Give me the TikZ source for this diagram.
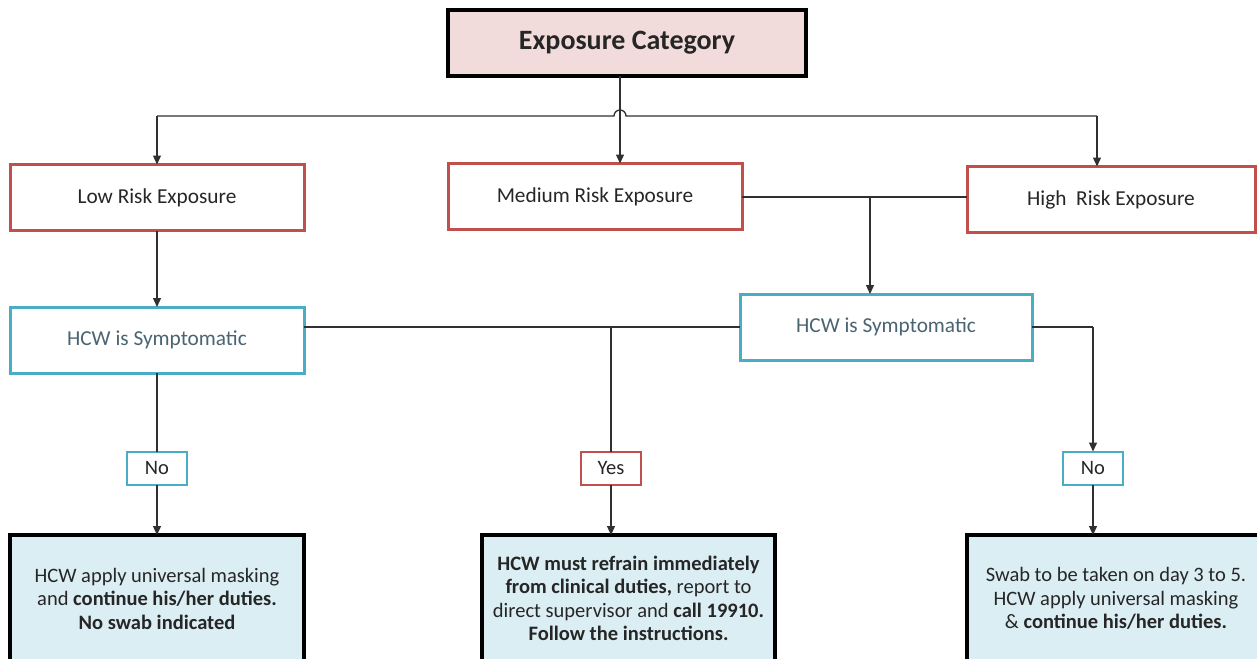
\documentclass[tikz,border=0pt]{standalone}
\usepackage{fontspec}
\setmainfont{Carlito}
\usetikzlibrary{arrows.meta}
\definecolor{redb}{HTML}{C0504D}
\definecolor{blueb}{HTML}{4BACC6}
\definecolor{pinkf}{HTML}{F2DCDB}
\definecolor{bluef}{HTML}{DBEEF4}
\definecolor{txt}{HTML}{262626}
\definecolor{symtxt}{HTML}{4A6472}
\definecolor{linec}{HTML}{303030}
\tikzset{
  every node/.style={inner sep=0pt, outer sep=0pt, align=center, text=txt},
  basebox/.style={font=\fontsize{20.5}{23.5}\selectfont},
  labbox/.style={font=\fontsize{21.3}{24}\selectfont},
  topbox/.style={draw=black, line width=4pt, fill=pinkf, minimum width=358pt, minimum height=66pt, font=\fontsize{28}{31}\selectfont\bfseries},
  riskbox/.style={labbox, draw=redb, line width=3pt, fill=white, minimum height=66pt},
  symbox/.style={labbox, draw=blueb, line width=3pt, fill=white, minimum height=66pt, text=symtxt},
  ansbox/.style={basebox, line width=2pt, fill=white, minimum width=60pt, minimum height=33pt},
  actbox/.style={basebox, draw=black, line width=4pt, fill=bluef, minimum height=127pt},
  conn/.style={draw=linec, line width=1.3pt},
  arr/.style={conn, -{Triangle[length=9pt,width=8pt]}},
}
\begin{document}
\begin{tikzpicture}[x=1pt,y=-1pt]
\useasboundingbox (0,0) rectangle (1257,658);
% nodes
\node[topbox] (top) at (627,43) {Exposure Category};
\node[riskbox, minimum width=294pt] (low) at (157,197.5) {Low Risk Exposure};
\node[riskbox, minimum width=294pt] (med) at (595,196.5) {Medium Risk Exposure};
\node[riskbox, minimum width=288pt] (high) at (1111,199.5) {High~~Risk Exposure};
\node[symbox, minimum width=294pt] (symL) at (157,340) {HCW is Symptomatic};
\node[symbox, minimum width=292pt] (symR) at (886,327) {HCW is Symptomatic};
\node[ansbox, draw=blueb] (noL) at (157,468) {No};
\node[ansbox, draw=redb] (yes) at (611,468) {Yes};
\node[ansbox, draw=blueb] (noR) at (1093,468) {No};
\node[actbox, minimum width=294pt] (botL) at (157,598.5) {HCW apply universal masking\\and \textbf{continue his/her duties.}\\\textbf{No swab indicated}};
\node[actbox, minimum width=293pt] (botM) at (628.5,598.5) {\textbf{HCW must refrain immediately}\\\textbf{from clinical duties,} report to\\direct supervisor and \textbf{call 19910.}\\\textbf{Follow the instructions.}};
\node[actbox, minimum width=298pt] (botR) at (1116,598.5) {Swab to be taken on day 3 to 5.\\HCW apply universal masking\\\& \textbf{continue his/her duties.}};
% coordinates
\coordinate (busL) at (157,116);
\coordinate (busR) at (1097,116);
\coordinate (hopA) at (614,116);
\coordinate (j1) at (870,197);
\coordinate (j2) at (611,327);
\coordinate (j3) at (1093,327);
% bus with hop
\draw[conn] (busL) -- (hopA) arc[start angle=180, end angle=0, radius=6pt] -- (busR);
\draw[arr] (busL) -- (low.north);
\draw[arr] (busR) -- (busR |- high.north);
\draw[arr] ([xshift=-7pt]top.south) -- ([xshift=25pt]med.north);
% medium to high
\draw[conn] (med.east |- j1) -- (j1 -| high.west);
\draw[arr] (j1) -- (j1 |- symR.north);
% low to symptomatic
\draw[arr] (low.south) -- (symL.north);
% symptomatic link
\draw[conn] (symL.east |- j2) -- (symR.west |- j2);
\draw[conn] (j2) -- (yes.north);
\draw[arr] (yes.south) -- (yes.south |- botM.north);
% left branch
\draw[conn] (symL.south) -- (noL.north);
\draw[arr] (noL.south) -- (noL.south |- botL.north);
% right branch
\draw[conn] (symR.east) -- (j3);
\draw[arr] (j3) -- (noR.north);
\draw[arr] (noR.south) -- (noR.south |- botR.north);
\end{tikzpicture}
\end{document}
